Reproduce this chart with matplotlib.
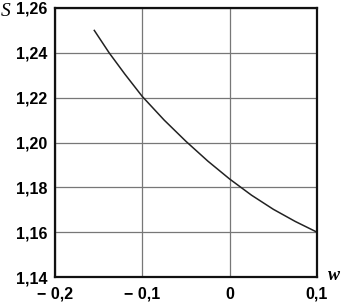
import matplotlib
matplotlib.use("Agg")
import matplotlib.pyplot as plt

w = [-0.155, -0.138, -0.12, -0.1, -0.075, -0.05, -0.025, 0.0, 0.025, 0.05, 0.075, 0.1]
s = [1.250, 1.240, 1.2305, 1.2205, 1.2100, 1.2005, 1.1917, 1.1837, 1.1765, 1.1702, 1.1648, 1.160]

x_ticks = [-0.2, -0.1, 0.0, 0.1]
x_labels = ["\u2212 0,2", "\u2212 0,1", "0", "0,1"]
y_ticks = [1.14, 1.16, 1.18, 1.20, 1.22, 1.24, 1.26]
y_labels = ["1,14", "1,16", "1,18", "1,20", "1,22", "1,24", "1,26"]

plt.rcParams["font.family"] = ["Liberation Sans", "DejaVu Sans"]

fig = plt.figure(figsize=(3.5, 3.03), dpi=100)
ax = fig.add_axes([55 / 350, 1 - 277 / 303, 262 / 350, 269 / 303])

ax.plot(w, s, color="#222222", linewidth=1.1)

ax.set_xlim(-0.2, 0.1)
ax.set_ylim(1.14, 1.26)
ax.set_xticks(x_ticks)
ax.set_xticklabels(x_labels, fontweight="bold", fontsize=11.5)
ax.set_yticks(y_ticks)
ax.set_yticklabels(y_labels, fontweight="bold", fontsize=11.5)
ax.tick_params(axis="y", length=0, pad=5.5)
ax.tick_params(axis="x", length=0, pad=7)
ax.grid(True, color="#777777", linewidth=0.9)

for sp in ax.spines.values():
    sp.set_linewidth(1.6)
    sp.set_color("#111111")

fig.text(1 / 350, 1 - 11 / 303, "S", fontsize=14, fontstyle="italic",
         family="Liberation Serif", va="center", ha="left")
fig.text(334 / 350, 1 - 275 / 303, "w", fontsize=13, fontstyle="italic",
         fontweight="bold", family="Liberation Serif", va="center", ha="center")

fig.savefig("out.png", dpi=100)
